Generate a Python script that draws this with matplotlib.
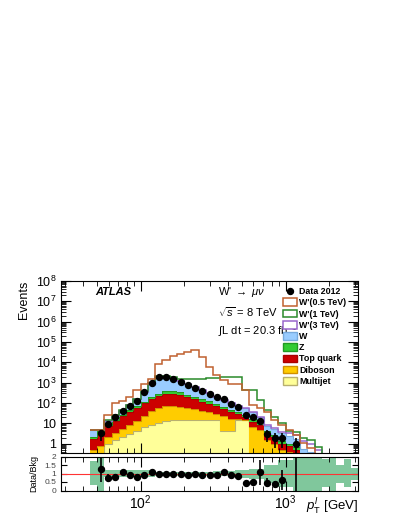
import numpy as np
import matplotlib
matplotlib.use("Agg")
import matplotlib.pyplot as plt
from matplotlib.patches import Patch
from matplotlib.lines import Line2D
from matplotlib.ticker import LogLocator, NullFormatter

plt.rcParams['font.family'] = ['Liberation Sans', 'DejaVu Sans']
plt.rcParams['mathtext.fontset'] = 'custom'
plt.rcParams['mathtext.rm'] = 'Liberation Sans'
plt.rcParams['mathtext.it'] = 'Liberation Sans:italic'

# %% binning: 20 log bins per decade
edges = 10 ** (1.65 + 0.05 * np.arange(38))

# %% background yields per bin (first 31 bins, rest empty)
multijet = [0, 0.3, 1.0, 1.5, 2.1, 3.0, 4.3, 6.3, 8.5, 10.7, 13.4, 14.5, 15, 15, 15, 15, 15, 15,
            4, 4, 14, 14, 0, 0, 0, 0, 0, 0, 0, 0, 0]
diboson = [0.5, 0.5, 1.2, 1.9, 3.1, 5.5, 8.7, 17.7, 33.5, 49, 57, 57, 51, 43, 35, 27, 20, 13,
           18, 13, 2, 1, 6.3, 5, 1.5, 1.0, 0.5, 0.4, 0.3, 0, 0]
top = [1.3, 2.7, 5.3, 9.6, 17, 29.5, 47, 71, 108, 160, 210, 218, 174, 132, 100, 73, 55, 40,
       28, 20, 12, 5, 5.7, 3.5, 1.7, 1.2, 0.5, 0.4, 0.2, 0.1, 0]
zjets = [0.3, 0.5, 1.0, 2, 3, 5, 10, 20, 40, 70, 120, 110, 100, 70, 50, 40, 30, 20,
         15, 11, 8, 6, 4, 2.5, 0.8, 0.6, 0.4, 0.2, 0.2, 0.1, 0.1]
wjets = [2.4, 0.7, 4.5, 9, 15, 35, 85, 245, 760, 1660, 1550, 1250, 840, 620, 410, 270, 180, 117,
         80, 52, 36, 34, 22, 9, 3.5, 2.7, 1.9, 1.5, 1.1, 0.35, 0.3]

# %% signal yields (drawn stacked on the total background)
wp05 = [0, 0, 12, 76, 90, 122, 275, 540, 650, 6750, 10650, 18350, 23800, 31100, 39400, 17575,
        5600, 2100, 1155, 800, 830, 370, 42, 34, 30, 10, 5, 2, 1, 0.5, 0.2]
wp1 = [0.2, 0.3, 1, 2, 3, 5, 10, 20, 50, 150, 250, 300, 420, 620, 890, 1175, 1400, 1595,
       1755, 1900, 1930, 390, 382, 120, 37, 14.5, 6.7, 1.5, 2.1, 1.45, 1.1, 0.7]
wp3 = [0] * 18 + [0.1, 0.1, 0.2, 0.2, 0.3, 0.3, 0.4, 0.5, 0.6, 0.8, 0.9, 0.8, 0.6, 0.5]

# %% data (bin index, events)
data_bin = list(range(1, 27)) + [28]
data = [3.2, 9.2, 19.6, 41, 73, 128, 330, 1020, 1900, 1900, 1600, 1100, 815, 580, 398, 273,
        188, 150, 88, 61, 25, 20, 13, 3, 2, 2, 1]

# %% ratio panel
ratio = [1.27, 0.73, 0.79, 1.07, 0.93, 0.82, 0.91, 1.07, 0.99, 1.0, 1.0, 0.95, 0.93, 0.97, 0.94,
         0.93, 0.93, 1.07, 0.9, 0.83, 0.42, 0.52, 1.07, 0.46, 0.36, 0.62, 2.5]
ratio_err = [0.75, 0.25, 0.2, 0.12, 0.05, 0.05, 0.04, 0.03, 0.02, 0.02, 0.02, 0.02, 0.02, 0.03,
             0.03, 0.04, 0.05, 0.06, 0.07, 0.09, 0.12, 0.1, 0.75, 0.28, 0.22, 0.6, 2.5]
band_lo = [0.32, 0, 0.8, 0.8, 0.8, 0.8, 0.8, 0.8, 0.8, 0.88, 0.88, 0.88, 0.88, 0.88, 0.88, 0.88,
           0.88, 0.85, 0.85, 0.85, 0.75, 0.75, 0.7, 0.7, 0.45, 0.45, 0.2, 0.2, 0, 0, 0, 0,
           0.18, 0, 0.42, 0.18, 0.62]
band_hi = [1.73, 2, 1.2, 1.2, 1.2, 1.2, 1.2, 1.2, 1.2, 1.1, 1.1, 1.1, 1.1, 1.1, 1.1, 1.1,
           1.1, 1.15, 1.15, 1.15, 1.2, 1.2, 1.25, 1.25, 1.5, 1.5, 1.8, 1.8, 2, 2, 2, 2,
           1.83, 2, 1.5, 1.83, 1.33]

# %% figure layout
W, H = 407, 527
fig = plt.figure(figsize=(W / 100, H / 100), dpi=100)
ax = fig.add_axes([61 / W, 1 - 453 / H, 297 / W, 172 / H])
axr = fig.add_axes([61 / W, 1 - 490.5 / H, 297 / W, 34 / H])

nb = len(edges) - 1


def pad(v):
    out = np.zeros(nb)
    out[:len(v)] = v
    return out


bkgs = [(multijet, '#ffff99', '#b8b070', 'Multijet'),
        (diboson, '#ffcc00', '#d09000', 'Diboson'),
        (top, '#cc0000', '#aa0000', 'Top quark'),
        (zjets, '#33cc33', '#229922', 'Z'),
        (wjets, '#99ccff', '#77aadd', 'W')]

base = np.full(nb, 1e-3)
for vals, fc, ec, lab in bkgs:
    v = pad(vals)
    ax.stairs(base + v, edges, baseline=base, fill=True, color=fc, lw=0)
    ax.stairs(base + v, edges, baseline=None, color=ec, lw=0.8)
    base = base + v
total = base

sigs = [(wp3, '#9966cc'), (wp1, '#2a8a2a'), (wp05, '#c0602f')]
for vals, col in sigs:
    ax.stairs(total + pad(vals), edges, baseline=None, color=col, lw=1.1)

centers = np.sqrt(edges[:-1] * edges[1:])
xd = centers[data_bin]
yd = np.array(data)
ax.errorbar(xd, yd, yerr=np.sqrt(yd), fmt='o', color='black', ms=4.3, elinewidth=1.2, capsize=0)

ax.set_xscale('log')
ax.set_yscale('log')
ax.set_xlim(10 ** 1.45, 10 ** 3.5)
ax.set_ylim(0.35, 1e8)
ax.set_yticks([1, 10, 1e2, 1e3, 1e4, 1e5, 1e6, 1e7, 1e8])
ax.set_yticklabels(['1', '10'] + ['$10^{%d}$' % k for k in range(2, 9)])
ax.yaxis.set_minor_locator(LogLocator(base=10, subs=np.arange(2, 10), numticks=20))
ax.yaxis.set_minor_formatter(NullFormatter())
ax.xaxis.set_major_formatter(NullFormatter())
ax.xaxis.set_minor_formatter(NullFormatter())
ax.tick_params(which='both', direction='in', top=True, right=True, labelsize=9)
ax.tick_params(which='major', length=7)
ax.tick_params(which='minor', length=3.5)
ax.set_ylabel('Events', fontsize=9, loc='top')

ax.text(0.114, 0.935, 'ATLAS', transform=ax.transAxes, fontsize=8, fontweight='bold',
        fontstyle='italic', va='center')
ax.text(0.53, 0.935, "W' $\\rightarrow$ $\\mu\\nu$", transform=ax.transAxes, fontsize=8, va='center')
ax.text(0.53, 0.82, '$\\sqrt{s}$ = 8 TeV', transform=ax.transAxes, fontsize=8, va='center')
ax.text(0.53, 0.71, '$\\int$L dt = 20.3 fb$^{-1}$', transform=ax.transAxes, fontsize=8, va='center')

handles = [Line2D([], [], marker='o', color='black', ls='none', ms=4.3),
           Patch(facecolor='white', edgecolor='#c0602f', lw=1.1),
           Patch(facecolor='white', edgecolor='#2a8a2a', lw=1.1),
           Patch(facecolor='white', edgecolor='#9966cc', lw=1.1),
           Patch(facecolor='#99ccff', edgecolor='#77aadd'),
           Patch(facecolor='#33cc33', edgecolor='#229922'),
           Patch(facecolor='#cc0000', edgecolor='#aa0000'),
           Patch(facecolor='#ffcc00', edgecolor='#d09000'),
           Patch(facecolor='#ffff99', edgecolor='#b8b070')]
labels = ['Data 2012', "W'(0.5 TeV)", "W'(1 TeV)", "W'(3 TeV)", 'W', 'Z', 'Top quark',
          'Diboson', 'Multijet']
ax.legend(handles, labels, loc='upper left', bbox_to_anchor=(0.74, 0.975), frameon=False,
          prop={'size': 6.4, 'weight': 'bold'}, handlelength=1.6, handleheight=0.95,
          labelspacing=0.25, handletextpad=0.25, borderpad=0.2, borderaxespad=0)

# %% ratio panel
axr.stairs(np.array(band_hi), edges, baseline=np.array(band_lo), fill=True,
           color='#80c79c', lw=0)
axr.axhline(1, color='#ff3333', lw=0.8)
axr.errorbar(centers[data_bin], ratio, yerr=ratio_err, fmt='o', color='black', ms=4.3,
             elinewidth=1.2, capsize=0)
axr.set_xscale('log')
axr.set_xlim(10 ** 1.45, 10 ** 3.5)
axr.set_ylim(0, 2)
axr.set_yticks([0, 0.5, 1, 1.5, 2])
axr.set_yticklabels(['0', '0.5', '1', '1.5', '2'])
axr.xaxis.set_minor_formatter(NullFormatter())
axr.tick_params(which='both', direction='in', top=True, right=True)
axr.tick_params(axis='y', labelsize=6, labelcolor='#444444', length=4)
axr.tick_params(axis='x', which='major', labelsize=10, length=7, pad=2)
axr.tick_params(axis='x', which='minor', length=3.5)
axr.set_ylabel('Data/Bkg', fontsize=6.5)
axr.text(1.0, -0.2, '$p_{\\rm T}^{l}$ [GeV]', transform=axr.transAxes, fontsize=9.5,
         ha='right', va='top')

fig.savefig('out.png', dpi=100)
